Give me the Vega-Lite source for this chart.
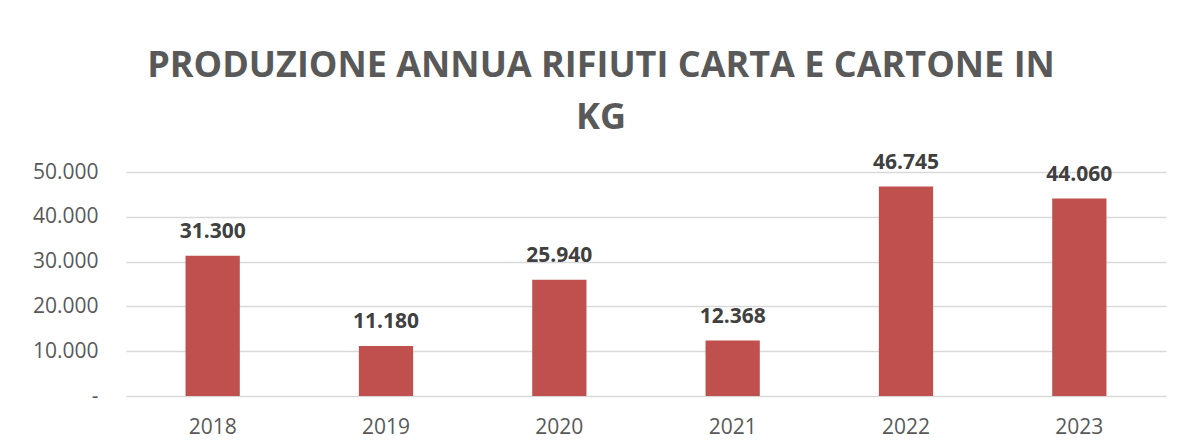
{
  "$schema": "https://vega.github.io/schema/vega-lite/v6.json",
  "width": 1040,
  "height": 224,
  "autosize": {"type": "none"},
  "padding": {"left": 126, "top": 172, "right": 16, "bottom": 52},
  "background": "white",
  "title": {
    "text": ["PRODUZIONE ANNUA RIFIUTI CARTA E CARTONE IN", "KG"],
    "font": "Open Sans",
    "fontSize": 36,
    "fontWeight": "bold",
    "color": "#595959",
    "lineHeight": 52,
    "anchor": "middle",
    "dx": -45,
    "offset": 15
  },
  "config": {
    "locale": {"number": {"decimal": ",", "thousands": ".", "grouping": [3], "currency": ["€", ""]}},
    "view": {"stroke": null}
  },
  "data": {
    "values": [
      {"anno": "2018", "kg": 31300},
      {"anno": "2019", "kg": 11180},
      {"anno": "2020", "kg": 25940},
      {"anno": "2021", "kg": 12368},
      {"anno": "2022", "kg": 46745},
      {"anno": "2023", "kg": 44060}
    ]
  },
  "encoding": {
    "x": {
      "field": "anno",
      "type": "ordinal",
      "scale": {"paddingInner": 0.687, "paddingOuter": 0.3435},
      "axis": {
        "title": null,
        "labelAngle": 0,
        "labelFont": "Open Sans",
        "labelFontSize": 21,
        "labelColor": "#595959",
        "labelPadding": 20,
        "domain": false,
        "ticks": false
      }
    },
    "y": {
      "field": "kg",
      "type": "quantitative",
      "scale": {"domain": [0, 50000]},
      "axis": {
        "title": null,
        "values": [0, 10000, 20000, 30000, 40000, 50000],
        "labelExpr": "datum.value == 0 ? '-\u00a0\u00a0' : format(datum.value, ',')",
        "labelFont": "Open Sans",
        "labelFontSize": 21,
        "labelColor": "#595959",
        "labelPadding": 28,
        "domain": false,
        "ticks": false,
        "gridColor": "#d9d9d9",
        "gridWidth": 1.3
      }
    }
  },
  "layer": [
    {"mark": {"type": "bar", "color": "#C0504D"}},
    {
      "mark": {"type": "text", "font": "Open Sans", "fontSize": 21, "fontWeight": "bold", "color": "#404040", "baseline": "alphabetic", "dy": -18},
      "encoding": {"text": {"field": "kg", "type": "quantitative", "format": ","}}
    }
  ]
}
